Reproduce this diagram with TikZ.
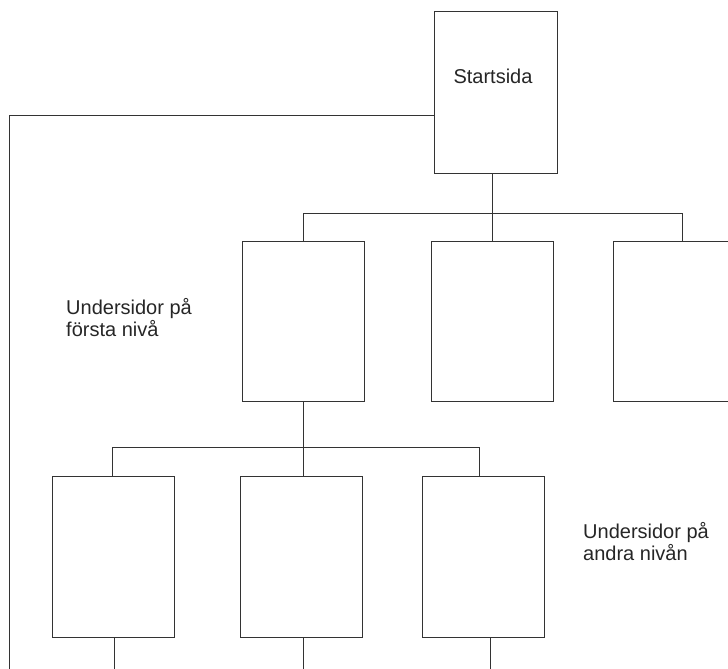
\documentclass[tikz,border=0pt]{standalone}
\usepackage{fontspec}
\setmainfont{Liberation Sans}

\tikzset{
  page/.style={draw=black!80,line width=1pt,minimum width=122pt,minimum height=160pt,inner sep=0pt},
  wire/.style={draw=black!80,line width=1pt},
  lbl/.style={font=\fontsize{20}{22}\selectfont,text=black!85,align=left,inner sep=0pt}
}

\begin{document}
\begin{tikzpicture}[x=1pt,y=-1pt]
\clip (0,0) rectangle (728,669);
% start page
\node[page,minimum width=123pt,minimum height=161pt] (start) at (495.5,92.5) {};
\node[lbl,anchor=base] (starttxt) at (493,83) {Startsida};
% first level
\node[page] (first1) at (303,321.5) {};
\node[page] (first2) at (492,321.5) {};
\node[page] (first3) at (674,321.5) {};
% second level
\node[page,minimum height=161pt] (second1) at (113,556.5) {};
\node[page,minimum height=161pt] (second2) at (301.5,556.5) {};
\node[page,minimum height=161pt] (second3) at (483,556.5) {};
\node[lbl,anchor=base west] (lvlone) at (66,336) {Undersidor på\\första nivå};
\node[lbl,anchor=base west] (lvltwo) at (583,560) {Undersidor på\\andra nivån};
% connectors
\coordinate (bus1) at (492,213);
\coordinate (bus1l) at (303,213);
\coordinate (bus1r) at (682,213);
\coordinate (bus2) at (303,447);
\coordinate (bus2l) at (112,447);
\coordinate (bus2r) at (479,447);
\coordinate (side) at (9,115);
\draw[wire] (start.south -| bus1) -- (bus1);
\draw[wire] (bus1l) -- (bus1r);
\draw[wire] (bus1l) -- (first1.north);
\draw[wire] (bus1) -- (first2.north);
\draw[wire] (bus1r) -- (first3.north -| bus1r);
\draw[wire] (first1.south) -- (bus2);
\draw[wire] (bus2l) -- (bus2r);
\draw[wire] (bus2l) -- (second1.north -| bus2l);
\draw[wire] (bus2) -- (second2.north -| bus2);
\draw[wire] (bus2r) -- (second3.north -| bus2r);
\draw[wire] (start.west |- side) -- (side) -- (9,669);
\foreach \n/\xx in {second1/114,second2/303,second3/490} {\draw[wire] (\n.south -| \xx,0) -- (\xx,669);}
\end{tikzpicture}
\end{document}
